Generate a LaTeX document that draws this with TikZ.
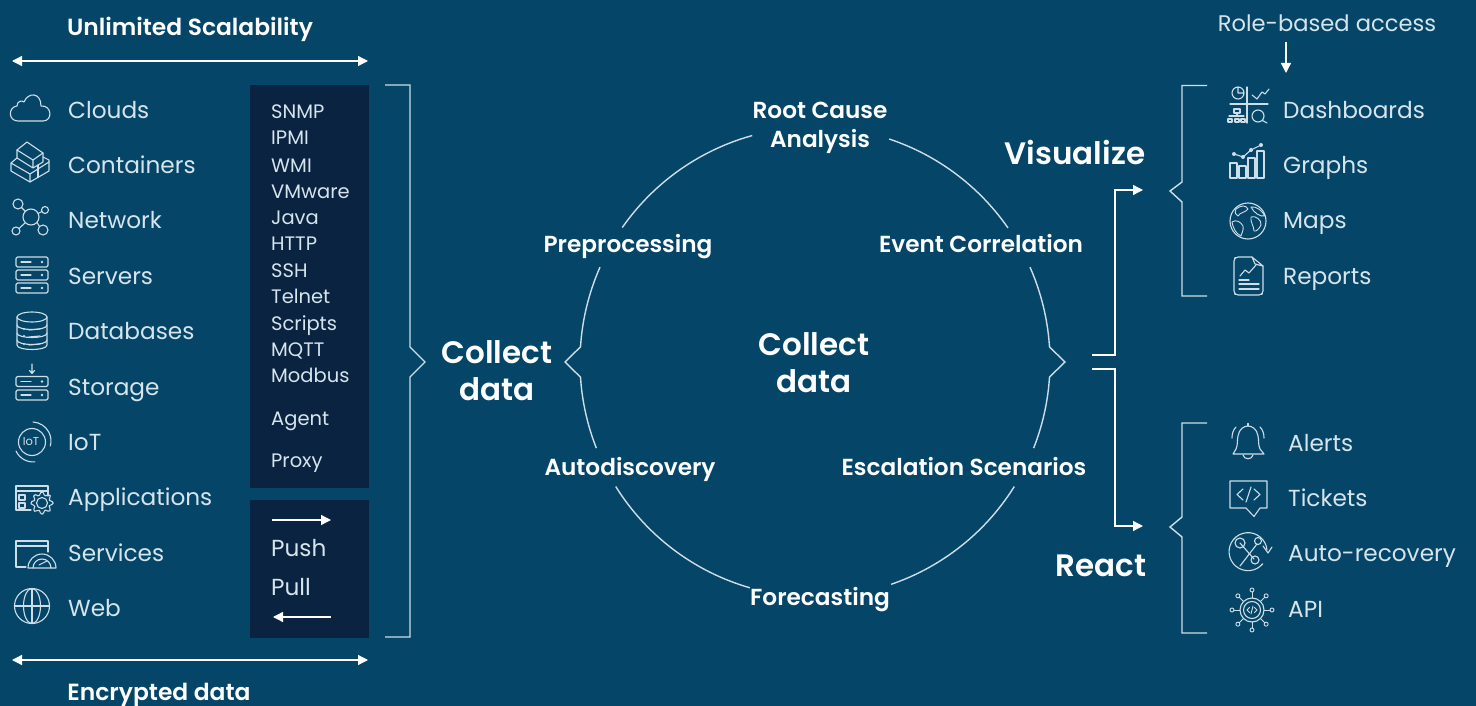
\documentclass[tikz,border=0pt]{standalone}
\usepackage{fontspec}
\setmainfont{Poppins}[BoldFont={Poppins SemiBold}]
\usetikzlibrary{arrows.meta}
\definecolor{bgc}{RGB}{5,70,104}
\definecolor{boxc}{RGB}{10,35,65}
\definecolor{linec}{RGB}{205,222,232}
\definecolor{txtc}{RGB}{214,228,236}
\tikzset{
  lab/.style={anchor=west,text=txtc,font=\fontsize{23.2}{24}\selectfont,inner sep=0pt,text height=17pt,text depth=0pt},
  boxlab/.style={anchor=west,text=txtc,font=\fontsize{19.5}{20}\selectfont,inner sep=0pt,text height=14pt,text depth=0pt},
  head/.style={anchor=center,text=white,font=\bfseries\fontsize{23.4}{24}\selectfont,inner sep=0pt,text height=16.5pt,text depth=0pt},
  cycone/.style={anchor=center,text=white,font=\bfseries\fontsize{23.2}{24}\selectfont,inner sep=0pt,text height=16.5pt,text depth=0pt},
  cyc/.style={anchor=center,text=white,font=\bfseries\fontsize{23.2}{29}\selectfont,inner sep=0pt,align=center},
  big/.style={anchor=center,text=white,font=\bfseries\fontsize{31}{37}\selectfont,inner sep=0pt,align=center},
  ln/.style={draw=linec,line width=1.4pt},
  arr/.style={draw=white,line width=1.3pt,-{Stealth[length=10pt,width=10pt,inset=0pt]}},
  darr/.style={draw=white,line width=1.3pt,{Stealth[length=10pt,width=10pt,inset=0pt]}-{Stealth[length=10pt,width=10pt,inset=0pt]}},
  ico/.style={draw=linec,line width=1.1pt,line join=round,line cap=round},
  darkbox/.style={fill=boxc,draw=none,inner sep=0pt,minimum width=119pt,anchor=north west}
}
\newcommand{\cyarc}[2]{\draw[ln] plot[smooth,domain=#1:#2,samples=24] ({815+235*cos(\x)},{362+235*sin(\x)});}
\begin{document}
\begin{tikzpicture}[x=1pt,y=-1pt]
\fill[bgc] (0,0) rectangle (1476,706);
\useasboundingbox (0,0) rectangle (1476,706);

% top and bottom
\node[head] (unl) at (190,27) {Unlimited Scalability};
\coordinate (ua) at (12,61); \coordinate (ub) at (368,61);
\draw[darr] (ua) -- (ub);
\coordinate (ea) at (12,660); \coordinate (eb) at (368,660);
\draw[darr] (ea) -- (eb);
\node[head] (enc) at (159,692.3) {Encrypted data};

% left labels
\node[lab] (l1) at (68,110) {Clouds};
\node[lab] (l2) at (68,165) {Containers};
\node[lab] (l3) at (68,220) {Network};
\node[lab] (l4) at (68,276) {Servers};
\node[lab] (l5) at (68,331) {Databases};
\node[lab] (l6) at (68,387) {Storage};
\node[lab] (l7) at (68,442) {IoT};
\node[lab] (l8) at (68,497) {Applications};
\node[lab] (l9) at (68,553) {Services};
\node[lab] (l10) at (68,608) {Web};

% dark boxes
\node[darkbox,minimum height=403pt] (b1) at (250,85) {};
\node[darkbox,minimum height=138pt] (b2) at (250,500) {};
\foreach \t/\y/\n in {SNMP/112/a,IPMI/138/b,WMI/165/c,VMware/191/d,Java/217/e,HTTP/244/f,SSH/270/g,Telnet/296/h,Scripts/323/i,MQTT/349/j,Modbus/375/k,Agent/418/l,Proxy/460/m}
  \node[boxlab] (p\n) at (271,\y) {\t};
\node[lab] (push) at (271,548) {Push};
\node[lab] (pull) at (271,587) {Pull};
\coordinate (pa) at (272,520); \coordinate (pb) at (331,520);
\coordinate (qa) at (331,617); \coordinate (qb) at (273,617);
\draw[arr] (pa) -- (pb);
\draw[arr] (qa) -- (qb);

% big left bracket
\draw[ln] (385,85) -- (410,85) -- (410,347) -- (425,362) -- (410,377) -- (410,637) -- (385,637);
\node[big] (cd1) at (497,371) {Collect\\data};

% cycle
\node[big] (cd2) at (814,363) {Collect\\data};
\node[cyc] (rca) at (820,128) {Root Cause\\Analysis};
\node[cycone] (pre) at (628,244) {Preprocessing};
\node[cycone] (evc) at (981,244) {Event Correlation};
\node[cycone] (aut) at (630,467) {Autodiscovery};
\node[cycone] (esc) at (964,467) {Escalation Scenarios};
\node[cycone] (for) at (820,597) {Forecasting};
\cyarc{214.9}{254.5}
\cyarc{-71.6}{-34.8}
\cyarc{32}{71.1}
\cyarc{106.1}{148}
\draw[ln] plot[smooth,domain=-23.8:-3.66,samples=12] ({815+235*cos(\x)},{362+235*sin(\x)}) -- (1065,362) -- plot[smooth,domain=3.66:21.5,samples=12] ({815+235*cos(\x)},{362+235*sin(\x)});
\draw[ln] plot[smooth,domain=158.5:176.3,samples=12] ({815+235*cos(\x)},{362+235*sin(\x)}) -- (565,362) -- plot[smooth,domain=183.7:203.8,samples=12] ({815+235*cos(\x)},{362+235*sin(\x)});

% outputs
\coordinate (va) at (1092,355); \coordinate (vb) at (1143,190);
\coordinate (ra) at (1092,369); \coordinate (rb) at (1143,526);
\draw[arr,line join=miter] (va) -- (1115,355) -- (1115,190) -- (vb);
\draw[arr,line join=miter] (ra) -- (1115,369) -- (1115,526) -- (rb);
\node[big] (vis) at (1075,152) {Visualize};
\node[big] (rea) at (1101,566) {React};
\draw[ln] (1207,85.5) -- (1182,85.5) -- (1182,182) -- (1170,191) -- (1182,202) -- (1182,296) -- (1207,296);
\draw[ln] (1207,423) -- (1182,423) -- (1182,517) -- (1170,527) -- (1182,537) -- (1182,633) -- (1207,633);
\node[anchor=center,text=txtc,font=\fontsize{22.6}{23}\selectfont,inner sep=0pt,text height=16pt,text depth=0pt] (rol) at (1327,24) {Role-based access};
\coordinate (rc) at (1286,42); \coordinate (rd) at (1286,73);
\draw[arr] (rc) -- (rd);

% right labels
\node[lab] (r1) at (1283,110) {Dashboards};
\node[lab] (r2) at (1283,165) {Graphs};
\node[lab] (r3) at (1283,220) {Maps};
\node[lab] (r4) at (1283,276) {Reports};
\node[lab] (r5) at (1288,443) {Alerts};
\node[lab] (r6) at (1288,498) {Tickets};
\node[lab] (r7) at (1288,553) {Auto-recovery};
\node[lab] (r8) at (1288,609) {API};

% ---------- icons left ----------
% cloud
\draw[ico] (18,121) .. controls (8,121) and (8,107) .. (17,106) .. controls (17,101) and (22,100) .. (24,102) .. controls (28,92) and (41,92) .. (41,106) .. controls (52,105) and (53,121) .. (43,121) -- cycle;
% containers
\begin{scope}[shift={(30,163)}]
\draw[ico] (-13,-13) -- (-3,-21) -- (13,-10) -- (3,-3) -- cycle;
\draw[ico] (-13,-13) -- (-13,-5) -- (3,5) -- (3,-3) (13,-10) -- (13,-1) -- (3,5);
\draw[ico] (-13,-5) -- (-19,0) -- (-19,8) -- (0,19) -- (19,8) -- (19,-3) -- (13,-6);
\draw[ico] (-19,0) -- (0,11) -- (0,19) (0,11) -- (19,-1);
\draw[ico] (8,2) -- (8,14);
\end{scope}
% network
\begin{scope}[shift={(31,217)}]
\draw[ico] (0,0) circle (8) (-13,-13) circle (5) (14,-7) circle (3.5) (-15,14) circle (4) (12,13) circle (5);
\draw[ico] (-5.6,-5.6) -- (-9.5,-9.5) (7,-3.5) -- (11,-5.5) (-6,6) -- (-12,11.5) (6,5.5) -- (8.5,9.5);
\end{scope}
% servers
\foreach \y in {262,275,288}{
 \draw[ico,rounded corners=1.5pt] (16,\y-5) rectangle (48,\y+5);
 \draw[ico] (21,\y) -- (31,\y);
 \fill[linec] (42,\y) circle (1.4);
}
% databases
\begin{scope}[shift={(32,331)}]
\draw[ico] (0,-14) ellipse (15 and 5);
\draw[ico] (-15,-14) -- (-15,14) .. controls (-15,20) and (15,20) .. (15,14) -- (15,-14);
\draw[ico] (-15,-6) .. controls (-15,0) and (15,0) .. (15,-6);
\draw[ico] (-15,2) .. controls (-15,8) and (15,8) .. (15,2);
\draw[ico] (-15,9) .. controls (-15,15) and (15,15) .. (15,9);
\fill[linec] (-8,-2) circle (1.1) (-8,5) circle (1.1) (-8,13) circle (1.1);
\draw[ico] (-3,-1) -- (8,-2) (-3,6) -- (8,5) (-3,14) -- (8,13);
\end{scope}
% storage
\foreach \y in {381.5,395}{
 \draw[ico,rounded corners=1.5pt] (16,\y-5) rectangle (48,\y+5);
 \draw[ico] (21,\y) -- (31,\y);
 \fill[linec] (42,\y) circle (1.4);
}
\draw[ico] (32,364) -- (32,373) (29.5,370.5) -- (32,373.5) -- (34.5,370.5);
% IoT
\draw[ico] (32,442) circle (13.5);
\draw[ico] (33,422) arc[start angle=-87,end angle=15,radius=19];
\draw[ico] (16,451) arc[start angle=155,end angle=85,radius=19];
\node[text=linec,font=\fontsize{11.5}{12}\selectfont,inner sep=0pt] (iot) at (31,442) {IoT};
% applications
\draw[ico] (48,496) -- (48,486) -- (16,486) -- (16,510) -- (31,510);
\draw[ico] (16,491) -- (48,491);
\draw[ico] (19,495) rectangle (25,500) (19,503) rectangle (25,508);
\begin{scope}[shift={(42,503)}]
\draw[ico] (0,0) circle (5.5);
\draw[ico] plot[smooth cycle,tension=0.2,samples=33,domain=0:352] ({(9.5+1.8*sin(8*\x+90))*cos(\x)},{(9.5+1.8*sin(8*\x+90))*sin(\x)});
\end{scope}
% services
\draw[ico] (48,552) -- (48,541) -- (16,541) -- (16,567) -- (26,567);
\draw[ico] (16,546) -- (48,546);
\draw[ico] (28,568) arc[start angle=180,end angle=360,radius=14] -- cycle;
\draw[ico] (33,568) arc[start angle=180,end angle=360,radius=9];
\draw[ico] (39,565) -- (47,561);
% web
\draw[ico] (32,606) circle (17.5);
\draw[ico] (32,606) ellipse (8.5 and 17.5);
\draw[ico] (32,588.5) -- (32,623.5) (14.5,606) -- (49.5,606);

% ---------- icons right ----------
% dashboards
\draw[ico] (1230,104) -- (1268,104) (1247,87) -- (1247,123);
\draw[ico] (1238,93) circle (6) (1238,93) -- (1238,87) (1238,93) -- (1244,93);
\draw[ico] (1252,95) -- (1257,99) -- (1262,92) -- (1265,94) -- (1269,89);
\draw[ico] (1234,109) rectangle (1240,113) (1237,113) -- (1237,116) (1229,116) -- (1244,116);
\draw[ico] (1228,119) rectangle (1232,122) (1235,119) rectangle (1239,122) (1241,119) rectangle (1245,122);
\draw[ico] (1258,116) circle (6) (1262.5,120.5) -- (1267,123);
% graphs
\draw[ico] (1230,163) rectangle (1237,178) (1239,166) rectangle (1246,178) (1248,158) rectangle (1255,178) (1257,151) rectangle (1264,178);
\draw[ico] (1234,154) -- (1243,157) -- (1251,150) -- (1261,145);
\fill[linec] (1234,154) circle (2) (1243,157) circle (2) (1251,150) circle (2) (1261,145) circle (2);
% maps
\draw[ico] (1248,221) circle (18);
\draw[ico,line width=0.9pt] (1236,209) .. controls (1241,205) and (1246,205) .. (1248,209) .. controls (1245,213) and (1240,212) .. (1238,216) .. controls (1236,215) and (1234,213) .. (1236,209) -- cycle;
\draw[ico,line width=0.9pt] (1232,222) .. controls (1236,219) and (1241,222) .. (1243,226) .. controls (1244,231) and (1241,234) .. (1241,236) .. controls (1236,234) and (1233,228) .. (1232,222) -- cycle;
\draw[ico,line width=0.9pt] (1251,207) .. controls (1257,206) and (1262,211) .. (1265,216) .. controls (1260,217) and (1254,213) .. (1251,207) -- cycle;
\draw[ico,line width=0.9pt] (1251,217) .. controls (1255,215) and (1262,220) .. (1261,225) .. controls (1259,229) and (1256,232) .. (1254,231) .. controls (1254,226) and (1250,222) .. (1251,217) -- cycle;
% reports
\draw[ico,rounded corners=2pt] (1252,257) -- (1236,257) -- (1234,259) -- (1234,293) -- (1236,295) -- (1261,295) -- (1263,293) -- (1263,266);
\draw[ico] (1252,257) -- (1263,266) (1252,257) -- (1255,264) -- (1263,266);
\draw[ico] (1240,276) -- (1245,270) -- (1249,273) -- (1256,265);
\draw[ico] (1239,280) -- (1249,280) (1239,284) -- (1259,284) (1239,289) -- (1259,289);
% alerts
\draw[ico] (1233,454) -- (1236,449) .. controls (1238,445) and (1237,440) .. (1238,436) .. controls (1239,429) and (1244,426) .. (1248,426) .. controls (1252,426) and (1257,429) .. (1258,436) .. controls (1259,440) and (1258,445) .. (1260,449) -- (1264,454) -- cycle;
\draw[ico] (1248,426) -- (1248,423.5);
\draw[ico] (1243,455) .. controls (1244,460) and (1252,460) .. (1253,455);
\draw[ico] (1236,427) .. controls (1233,430) and (1232,434) .. (1232,438);
\draw[ico] (1260,427) .. controls (1263,430) and (1264,434) .. (1264,438);
% tickets
\draw[ico] (1246,508) -- (1230,508) -- (1230,481) -- (1267,481) -- (1267,508) -- (1260,508) -- (1254,516.5) -- cycle;
\draw[ico] (1243,489) -- (1237,494.5) -- (1243,500) (1254,489) -- (1260,494.5) -- (1254,500) (1251,487) -- (1246,502);
% auto-recovery
\draw[ico] (1267,550) arc[start angle=-5,end angle=-320,radius=19];
\draw[ico] (1263,546) -- (1268,553) -- (1272,547);
\draw[ico] (1240,566) -- (1257,544) (1258,541) circle (3.5);
\draw[ico] (1240,543) -- (1254,559);
\draw[ico] (1240,543) circle (5) (1255,560) circle (4);
% API
\begin{scope}[shift={(1252,610)}]
\draw[ico] (0,0) circle (12) (0,0) circle (8.5);
\draw[ico,line width=0.9pt] (-2.5,-2.5) -- (-5,0) -- (-2.5,2.5) (2.5,-2.5) -- (5,0) -- (2.5,2.5) (1,-4) -- (-1,4);
\foreach \a in {0,45,...,315}{
 \draw[ico,line width=0.9pt] (\a:12) -- (\a:18);
 \draw[ico,line width=0.9pt] (\a:20) circle (2);
}
\end{scope}
\end{tikzpicture}
\end{document}
